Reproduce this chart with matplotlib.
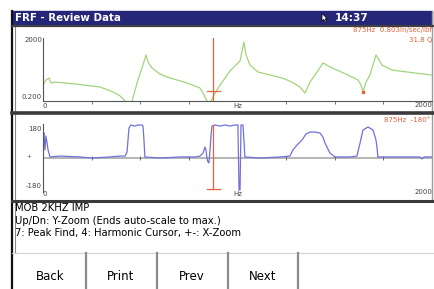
import matplotlib
matplotlib.use("Agg")
import matplotlib.pyplot as plt
from matplotlib.patches import Rectangle, Polygon
import numpy as np

plt.rc('font', family='DejaVu Sans')

#------------------------------------------------------------------------------#
# data

# FRF magnitude (in/sec/lbf), log scale 0.2 .. 2000
mag_freq = [0, 15, 31, 41, 62, 165, 293, 360, 396, 422, 437, 452, 458, 488, 514,
            530, 540, 560, 601, 637, 740, 807, 823, 843, 853, 864, 874, 900, 961,
            1013, 1033, 1044, 1064, 1105, 1229, 1280, 1321, 1347, 1373, 1398,
            1440, 1476, 1568, 1620, 1635, 1645, 1661, 1681, 1712, 1743, 1794,
            1912, 2000]
mag_vals = [2.07, 4.3, 5.8, 2.8, 3.2, 2.4, 1.55, 0.75, 0.42, 0.2, 0.05, 0.05, 0.2,
            4.3, 38.6, 167, 60, 24.9, 10.4, 6.7, 2.8, 1.34, 0.64, 0.2, 0.05, 0.2,
            0.36, 1.34, 16.1, 69, 1114, 167, 38.6, 13.9, 5.8, 3.2, 1.55, 0.64,
            3.2, 8.9, 52, 28.8, 8.9, 4.3, 2.07, 0.75, 3.2, 8.9, 167, 38.6, 18.6,
            12, 8.9]

# FRF phase (deg)
ph_freq = [0, 5, 10, 15, 21, 26, 36, 87, 190, 252, 344, 396, 422, 432, 437, 442,
           452, 473, 488, 509, 514, 519, 524, 601, 704, 781, 807, 823, 833, 838,
           843, 848, 853, 859, 864, 869, 884, 910, 936, 961, 987, 1002, 1008,
           1013, 1018, 1028, 1033, 1038, 1116, 1218, 1270, 1285, 1306, 1332,
           1352, 1373, 1398, 1424, 1439, 1450, 1475, 1501, 1578, 1614, 1630,
           1645, 1671, 1697, 1712, 1717, 1722, 1835, 1938, 1949, 1959, 2000]
ph_vals = [114, 136, 42, 119, 80, 42, 3, 8, 3, -3, 3, 8, 8, 30, 97, 163,
           180, 174, 180, 180, 174, 97, 3, -3, 3, 3, 8, 25, 58, 42,
           -3, -25, -30, 42, 125, 174, 180, 174, 180, 174, 180, 180, -180,
           -180, 180, 180, 97, 3, -3, 3, 8, 42, 69, 97,
           130, 141, 141, 136, 114, 80, 25, 3, 3, 8, 80,
           152, 169, 152, 97, 58, 3, 3, 3, -8, 3, 3]

cursor_freq = 875
cursor_mag = 0.803
cursor_phase = -180
antires_freq = 1645
antires_mag = 0.75

x_ticks = [250, 500, 750, 1250, 1500, 1750]

info_lines = ["MOB 2KHZ IMP",
              "Up/Dn: Y-Zoom (Ends auto-scale to max.)",
              "7: Peak Find, 4: Harmonic Cursor, +-: X-Zoom"]
buttons = ["Back", "Print", "Prev", "Next"]

#------------------------------------------------------------------------------#

W, H = 435, 289
green = "#a2d47a"
blue = "#7070da"
red = "#e8603c"
navy = "#25257a"
axis_gray = "#555555"

def px_rect(l, t, r, b):
    return [l / W, 1 - b / H, (r - l) / W, (b - t) / H]

fig = plt.figure(figsize=(W / 100, H / 100), dpi=100)
fig.patch.set_facecolor("white")

# screen chrome drawn in pixel coordinates
bg = fig.add_axes([0, 0, 1, 1])
bg.set_xlim(0, W)
bg.set_ylim(H, 0)
bg.axis("off")

bg.add_patch(Rectangle((12, 11), 420, 13.5, color=navy, zorder=1))
bg.text(15, 17.8, "FRF - Review Data", color="white", fontsize=7.4,
        fontweight="bold", va="center", ha="left")
bg.text(335, 17.8, "14:37", color="white", fontsize=7.6,
        fontweight="bold", va="center", ha="left")
bg.add_patch(Polygon([(322, 13.5), (322, 21), (323.8, 19.4), (325.2, 22.2),
                      (326.4, 21.6), (325.1, 18.9), (327.4, 18.9)],
                     closed=True, facecolor="white", edgecolor="black",
                     lw=0.5, zorder=3))

# frame lines
bg.plot([12.5, 12.5], [11, H], color="#111111", lw=1.6)
bg.plot([15.5, 15.5], [25, 252], color="#8a8a8a", lw=0.8)
bg.plot([432.5, 432.5], [11, 201], color="#9a9a9a", lw=1.0)
bg.plot([12, 433], [25.8, 25.8], color="#404040", lw=1.6)
bg.plot([12, 433], [113, 113], color="#3a3a3a", lw=2.6)
bg.plot([12, 433], [200.5, 200.5], color="#3a3a3a", lw=2.2)
bg.plot([12, 433], [252.5, 252.5], color="#d0d0d0", lw=0.8)
for xs in [86, 157, 228, 298]:
    bg.plot([xs, xs], [253, H], color="#8c8c8c", lw=1.6)

# axis labels of the two panels
small = 5.0
bg.text(42, 40.5, "2000", fontsize=small, ha="right", va="center", color="#444444")
bg.text(42, 97, "0.200", fontsize=small, ha="right", va="center", color="#444444")
bg.text(45, 105.5, "0", fontsize=small, ha="center", va="center", color="#444444")
bg.text(238, 105.5, "Hz", fontsize=small, ha="center", va="center", color="#444444")
bg.text(432, 105, "2000", fontsize=small, ha="right", va="center", color="#444444")
bg.text(432, 30, "875Hz  0.803in/sec/lbf", fontsize=small, ha="right",
        va="center", color=red)
bg.text(432, 40, "31.8 Q", fontsize=small, ha="right", va="center", color=red)

bg.text(42, 129, "180", fontsize=small, ha="right", va="center", color="#444444")
bg.text(29, 156, "+", fontsize=4, ha="center", va="center", color="#444444")
bg.text(42, 186, "-180", fontsize=small, ha="right", va="center", color="#444444")
bg.text(45, 193.5, "0", fontsize=small, ha="center", va="center", color="#444444")
bg.text(238, 193.5, "Hz", fontsize=small, ha="center", va="center", color="#444444")
bg.text(432, 192.5, "2000", fontsize=small, ha="right", va="center", color="#444444")
bg.text(430, 120, "875Hz  -180°", fontsize=small, ha="right", va="center", color=red)

# info text and buttons
for i, line in enumerate(info_lines):
    bg.text(15, 208 + i * 12.5, line, fontsize=7.2, ha="left", va="center",
            color="black")
for i, name in enumerate(buttons):
    bg.text(50 + i * 71, 277, name, fontsize=8.5, ha="center", va="center",
            color="black")

#------------------------------------------------------------------------------#
# magnitude panel
ax1 = fig.add_axes(px_rect(43, 38, 432, 101))
ax1.set_facecolor("none")
ax1.plot(mag_freq, mag_vals, color=green, lw=0.9)
ax1.set_yscale("log")
ax1.set_xlim(0, 2000)
ax1.set_ylim(0.2, 2000)
ax1.axvline(cursor_freq, color=red, lw=0.9)
ax1.plot([843, 910], [cursor_mag, cursor_mag], color=red, lw=0.9)
ax1.plot([antires_freq], [antires_mag], "s", color=red, ms=1.5)
for s in ["top", "right"]:
    ax1.spines[s].set_visible(False)
for s in ["left", "bottom"]:
    ax1.spines[s].set_color(axis_gray)
    ax1.spines[s].set_linewidth(0.8)
ax1.set_yticks([])
ax1.minorticks_off()
ax1.set_xticks(x_ticks)
ax1.set_xticklabels([])
ax1.tick_params(axis="x", length=2, width=0.6, color=axis_gray)

# phase panel
ax2 = fig.add_axes(px_rect(43, 124, 432, 192))
ax2.set_facecolor("none")
ax2.axhline(0, color="#b4b4b4", lw=1.4, zorder=1)
ax2.plot(x_ticks, np.zeros(len(x_ticks)), "|", color=axis_gray, ms=3, mew=0.6)
ax2.plot(ph_freq, ph_vals, color=blue, lw=0.9, zorder=2)
ax2.plot([cursor_freq, cursor_freq], [180, cursor_phase + 5], color=red, lw=0.9,
         zorder=3)
ax2.plot([843, 910], [cursor_phase + 5, cursor_phase + 5], color=red, lw=0.9,
         zorder=3)
ax2.set_xlim(0, 2000)
ax2.set_ylim(-191, 185.5)
for s in ["top", "right", "bottom"]:
    ax2.spines[s].set_visible(False)
ax2.spines["left"].set_color(axis_gray)
ax2.spines["left"].set_linewidth(0.8)
ax2.set_xticks([])
ax2.set_yticks([])

fig.savefig("out.png", dpi=100)
